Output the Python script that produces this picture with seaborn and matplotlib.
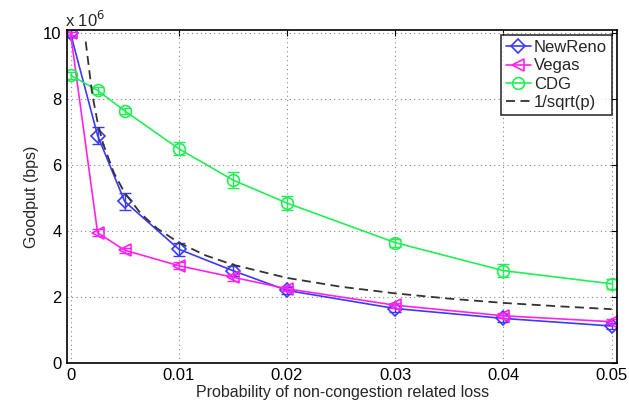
import matplotlib
matplotlib.use("Agg")
import matplotlib.pyplot as plt
import pandas as pd
import seaborn as sns

# loss probability (x) and goodput in units of 1e6 bps
loss_prob = [0, 0.0025, 0.005, 0.01, 0.015, 0.02, 0.03, 0.04, 0.05]
newreno = [10.0, 6.9, 4.9, 3.45, 2.8, 2.2, 1.65, 1.35, 1.12]
newreno_err = [0.1, 0.25, 0.25, 0.2, 0.15, 0.1, 0.1, 0.1, 0.1]
vegas = [10.0, 3.95, 3.42, 2.95, 2.6, 2.25, 1.75, 1.43, 1.25]
vegas_err = [0.05, 0.1, 0.08, 0.1, 0.1, 0.08, 0.08, 0.08, 0.08]
cdg = [8.73, 8.27, 7.65, 6.5, 5.55, 4.85, 3.65, 2.8, 2.4]
cdg_err = [0.1, 0.1, 0.1, 0.2, 0.25, 0.2, 0.12, 0.2, 0.15]

# reference curve 1/sqrt(p)
ref_p = [0.0014, 0.002, 0.0025, 0.003, 0.004, 0.005, 0.0065, 0.008, 0.01,
         0.0125, 0.015, 0.02, 0.025, 0.03, 0.035, 0.04, 0.045, 0.05]
ref_val = [9.75, 8.16, 7.3, 6.66, 5.77, 5.16, 4.53, 4.08, 3.65,
           3.26, 2.98, 2.58, 2.31, 2.11, 1.95, 1.82, 1.72, 1.63]

x_ticks = [0, 0.01, 0.02, 0.03, 0.04, 0.05]
x_tick_labels = ["0", "0.01", "0.02", "0.03", "0.04", "0.05"]
y_ticks = [0, 2, 4, 6, 8, 10]

sns.set_theme(style="white")
plt.rcParams["font.family"] = ["Liberation Sans", "DejaVu Sans"]
plt.rcParams["xtick.direction"] = "in"
plt.rcParams["ytick.direction"] = "in"

fig = plt.figure(figsize=(6.29, 4.01), dpi=100)
ax = fig.add_axes([0.107, 0.095, 0.874, 0.83])

series = [
    ("NewReno", newreno, newreno_err, "#3a3aff", "D", 7),
    ("Vegas", vegas, vegas_err, "#ff22ee", "<", 8),
    ("CDG", cdg, cdg_err, "#22ee55", "o", 8.5),
]
for name, vals, errs, color, marker, msize in series:
    df = pd.DataFrame({"p": loss_prob, "goodput": vals})
    ax.errorbar(loss_prob, vals, yerr=errs, fmt="none", ecolor=color,
                elinewidth=1.0, capsize=4, capthick=1.0)
    sns.lineplot(data=df, x="p", y="goodput", ax=ax, color=color, marker=marker,
                 markersize=msize, mfc="none", mec=color, mew=1.2, lw=1.2,
                 label=name)

ref_df = pd.DataFrame({"p": ref_p, "goodput": ref_val})
sns.lineplot(data=ref_df, x="p", y="goodput", ax=ax, color="#333333",
             linestyle=(0, (5, 3)), lw=1.3, label="1/sqrt(p)")

ax.set_xlim(-0.0003, 0.0505)
ax.set_ylim(0, 10.1)
ax.set_xticks(x_ticks)
ax.set_xticklabels(x_tick_labels)
ax.set_yticks(y_ticks)
ax.tick_params(labelsize=12, length=4, width=0.8, top=True, right=True,
               colors="black", pad=4)
ax.grid(True, linestyle=(0, (1, 3)), color="#888888", lw=0.8)
for spine in ax.spines.values():
    spine.set_color("black")
    spine.set_linewidth(1.2)

ax.set_xlabel("Probability of non-congestion related loss", fontsize=11.5, labelpad=1)
ax.set_ylabel("Goodput (bps)", fontsize=11.5, labelpad=3)
ax.text(-0.005, 1.0, r"x 10$^6$", transform=ax.transAxes, fontsize=12,
        ha="left", va="bottom")

leg = ax.legend(loc="upper right", fontsize=12, frameon=True, fancybox=False,
                borderaxespad=0.3, handlelength=1.5, handletextpad=0.2,
                labelspacing=0.2, borderpad=0.3)
leg.get_frame().set_edgecolor("black")
leg.get_frame().set_linewidth(1.2)

fig.savefig("out.png", dpi=100)
